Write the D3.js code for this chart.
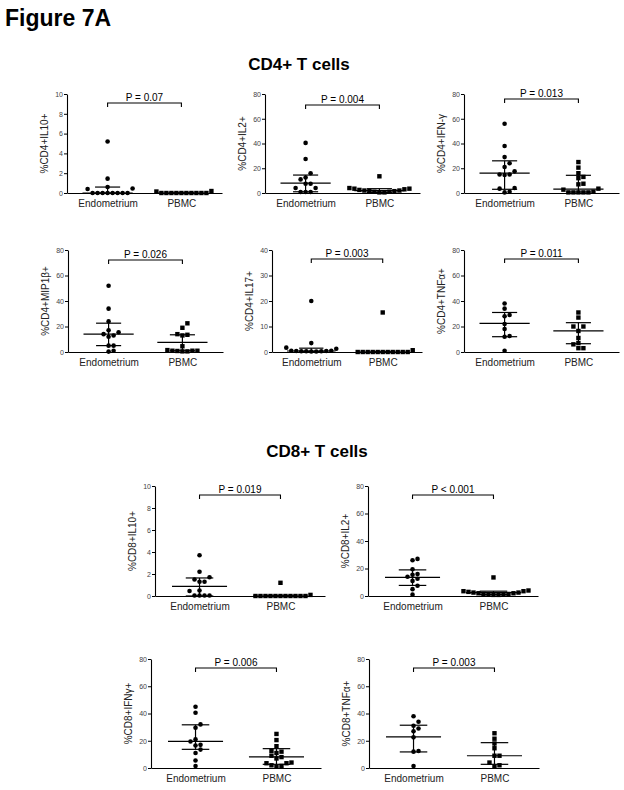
<!DOCTYPE html>
<html>
<head>
<meta charset="utf-8">
<script src="https://cdn.jsdelivr.net/npm/d3@7"></script>
<style>
  body { margin: 0; background: #fff; }
  svg { font-family: Arial, "Liberation Sans", Helvetica, sans-serif; }
</style>
</head>
<body>
<div id="fig"></div>
<script>
// groups on the x axis
const groups = ["Endometrium", "PBMC"];

// y axis labels, p values and y maxima, one per panel
const yLabels = ["%CD4+IL10+", "%CD4+IL2+", "%CD4+IFN-γ", "%CD4+MIP1β+", "%CD4+IL17+", "%CD4+TNFα+",
                 "%CD8+IL10+", "%CD8+IL2+", "%CD8+IFNγ+", "%CD8+TNFα+"];
const pTexts = ["P = 0.07", "P = 0.004", "P = 0.013", "P = 0.026", "P = 0.003", "P = 0.011",
                "P = 0.019", "P < 0.001", "P = 0.006", "P = 0.003"];
const yMax = [10, 80, 80, 80, 40, 80, 10, 80, 80, 80];

// individual values (Endometrium / PBMC)
const cd4Il10Endo = [5.2, 1.45, 0.6, 0.45, 0.4, 0, 0, 0, 0, 0, 0, 0, 0];
const cd4Il10Pbmc = [0.2, 0.15, 0, 0, 0, 0, 0, 0, 0, 0, 0, 0];
const cd4Il2Endo = [40.5, 27.5, 16, 12.5, 11, 7.5, 7.5, 4, 4, 0.8, 0.8, 0.8];
const cd4Il2Pbmc = [13.5, 4, 3.5, 3.5, 3, 2.5, 2, 1.5, 1, 0.5, 0.5, 1, 1.5, 2];
const cd4IfnEndo = [56, 38, 29, 24, 21, 17.5, 15, 15, 14.5, 4, 3.5, 1, 0.5];
const cd4IfnPbmc = [25, 20.5, 16, 13, 12, 7.5, 7, 3.5, 2.7, 1, 0.5, 0.5, 0.5, 0.5, 0.5];
const cd4MipEndo = [52, 34, 24, 17, 15.5, 14, 13, 12, 5, 5, 1, 0.3];
const cd4MipPbmc = [22.5, 19, 14, 13.5, 13, 4.5, 1.5, 1, 1, 1, 0.8, 0.5, 0.5];
const cd4Il17Endo = [20, 3.5, 1.7, 1.3, 0.5, 0.5, 0.4, 0.4, 0.3, 0.3, 0.3, 0.2, 0.2];
const cd4Il17Pbmc = [15.5, 0.7, 0, 0, 0, 0, 0, 0, 0, 0, 0, 0, 0];
const cd4TnfEndo = [38, 34, 29, 28, 22, 18, 12.5, 12, 1];
const cd4TnfPbmc = [31, 27, 20, 20, 16.5, 11, 7, 6, 3, 3];
const cd8Il10Endo = [3.7, 2.2, 1.7, 1.5, 1.3, 1.3, 0.5, 0.45, 0.05, 0.05, 0.05, 0.05];
const cd8Il10Pbmc = [1.2, 0.1, 0, 0, 0, 0, 0, 0, 0, 0, 0, 0, 0];
const cd8Il2Endo = [27, 26, 19.5, 16, 15.5, 14, 12.5, 11, 7.5, 5, 1];
const cd8Il2Pbmc = [13.5, 4, 3.5, 3, 2.5, 2, 1.5, 1, 0.8, 0.8, 1, 1.5, 2, 2.5, 3.5];
const cd8IfnEndo = [45, 40.5, 32, 29.5, 21, 19.5, 17, 16.5, 13.5, 11, 5.5, 1.5];
const cd8IfnPbmc = [25, 20.5, 16, 12.5, 12, 11, 9, 8, 7, 4, 3.5, 3.5, 2, 1.5, 1];
const cd8TnfEndo = [38, 34, 31, 29, 27, 22.5, 12.5, 12, 1.5];
const cd8TnfPbmc = [25.5, 21.5, 18, 14.5, 9, 9, 4, 2, 1];

// median and interquartile range per panel
const endoMedian = [0, 8, 16, 14, 0.4, 22.5, 0.88, 13.6, 19.6, 22.8];
const endoLow = [0, 1, 3, 5, 0.2, 12, 0, 7.7, 13.7, 11.8];
const endoHigh = [0.6, 14.5, 26, 22.6, 1.5, 31, 1.64, 19, 31.7, 31.4];
const pbmcMedian = [0, 2, 3.2, 7.6, 0, 16.5, 0, 2.4, 8.1, 9];
const pbmcLow = [0, 0.5, 0.8, 1, 0, 6.5, 0, 1, 2.7, 2.7];
const pbmcHigh = [0, 3.5, 14.3, 13.5, 0, 23, 0, 3.5, 14.2, 18.6];

const endoValues = [cd4Il10Endo, cd4Il2Endo, cd4IfnEndo, cd4MipEndo, cd4Il17Endo, cd4TnfEndo,
                    cd8Il10Endo, cd8Il2Endo, cd8IfnEndo, cd8TnfEndo];
const pbmcValues = [cd4Il10Pbmc, cd4Il2Pbmc, cd4IfnPbmc, cd4MipPbmc, cd4Il17Pbmc, cd4TnfPbmc,
                    cd8Il10Pbmc, cd8Il2Pbmc, cd8IfnPbmc, cd8TnfPbmc];

// where each panel sits on the page
const frames = [
  {x: 67, top: 94, bottom: 193, w: 155, gap: 9},
  {x: 265, top: 94, bottom: 193, w: 155, gap: 11},
  {x: 464, top: 94, bottom: 193, w: 155, gap: 5},
  {x: 68, top: 250, bottom: 352, w: 155, gap: 10},
  {x: 272, top: 250, bottom: 352, w: 150, gap: 9},
  {x: 464, top: 250, bottom: 352, w: 155, gap: 9},
  {x: 155, top: 486, bottom: 596, w: 170, gap: 9},
  {x: 368, top: 486, bottom: 596, w: 170, gap: 9},
  {x: 151, top: 659, bottom: 768, w: 170, gap: 9},
  {x: 369, top: 659, bottom: 768, w: 170, gap: 9}
];

const svg = d3.select("#fig").append("svg")
  .attr("width", 624)
  .attr("height", 790);

svg.append("text")
  .attr("x", 5).attr("y", 26)
  .style("font-size", "23px").style("font-weight", "bold")
  .text("Figure 7A");

svg.append("text")
  .attr("x", 299).attr("y", 70)
  .attr("text-anchor", "middle")
  .style("font-size", "17px").style("font-weight", "bold")
  .text("CD4+ T cells");

svg.append("text")
  .attr("x", 317).attr("y", 457)
  .attr("text-anchor", "middle")
  .style("font-size", "17px").style("font-weight", "bold")
  .text("CD8+ T cells");

// spread overlapping points sideways, lowest values nearest the centre
function swarm(values, cx, y, spacing, size) {
  const placed = [];
  values.slice().sort((a, b) => a - b).forEach(v => {
    const py = y(v);
    for (let k = 0; ; k++) {
      const off = k === 0 ? 0 : (k % 2 ? 1 : -1) * Math.ceil(k / 2) * spacing;
      const px = cx + off;
      if (!placed.some(p => Math.abs(p.x - px) < size && Math.abs(p.y - py) < size)) {
        placed.push({x: px, y: py});
        break;
      }
    }
  });
  return placed;
}

frames.forEach((f, i) => {
  const g = svg.append("g").attr("transform", `translate(${f.x},0)`);

  const x = d3.scalePoint().domain(groups).range([0, f.w]).padding(0.55);
  const y = d3.scaleLinear().domain([0, yMax[i]]).range([f.bottom, f.top]);

  // y axis
  const yAxis = g.append("g")
    .call(d3.axisLeft(y).ticks(5).tickSize(3).tickSizeOuter(0));
  yAxis.select(".domain").attr("stroke", "#000").attr("stroke-width", 1.1);
  yAxis.selectAll(".tick line").attr("stroke", "#000");
  yAxis.selectAll("text").style("font-size", "7px").attr("fill", "#444").attr("x", -4);

  // x axis
  const xAxis = g.append("g")
    .attr("transform", `translate(0,${f.bottom})`)
    .call(d3.axisBottom(x).tickSize(0).tickSizeOuter(0).tickPadding(7));
  xAxis.select(".domain").attr("stroke", "#000").attr("stroke-width", 1.1);
  xAxis.selectAll("text").style("font-size", "10px").attr("fill", "#222");

  // y label
  g.append("text")
    .attr("transform", `translate(-23,${(f.top + f.bottom) / 2}) rotate(-90)`)
    .attr("dy", "0.35em")
    .attr("text-anchor", "middle")
    .style("font-size", "10px")
    .attr("fill", "#222")
    .text(yLabels[i]);

  // points
  const step = x.step();
  const endoPts = swarm(endoValues[i], x(groups[0]), y, 5, 4.6);
  const pbmcPts = swarm(pbmcValues[i], x(groups[1]), y, 5, 4.6);

  g.selectAll(".endo").data(endoPts).enter()
    .append("circle")
    .attr("cx", d => d.x).attr("cy", d => d.y)
    .attr("r", 2.3).attr("fill", "#000");

  g.selectAll(".pbmc").data(pbmcPts).enter()
    .append("rect")
    .attr("x", d => d.x - 2.2).attr("y", d => d.y - 2.2)
    .attr("width", 4.4).attr("height", 4.4).attr("fill", "#000");

  // median and interquartile range
  const summary = [
    {cx: x(groups[0]), med: endoMedian[i], lo: endoLow[i], hi: endoHigh[i]},
    {cx: x(groups[1]), med: pbmcMedian[i], lo: pbmcLow[i], hi: pbmcHigh[i]}
  ];
  const medHalf = step * 0.34, capHalf = step * 0.17;
  summary.forEach(s => {
    const lines = [
      [s.cx - medHalf, y(s.med), s.cx + medHalf, y(s.med)],
      [s.cx - capHalf, y(s.hi), s.cx + capHalf, y(s.hi)],
      [s.cx - capHalf, y(s.lo), s.cx + capHalf, y(s.lo)],
      [s.cx, y(s.lo), s.cx, y(s.hi)]
    ];
    g.selectAll(null).data(lines).enter()
      .append("line")
      .attr("x1", d => d[0]).attr("y1", d => d[1])
      .attr("x2", d => d[2]).attr("y2", d => d[3])
      .attr("stroke", "#000").attr("stroke-width", 1.2);
  });

  // significance bracket
  const by = f.top + f.gap;
  const x0 = x(groups[0]), x1 = x(groups[1]);
  g.append("path")
    .attr("d", `M${x0},${by + 4}V${by}H${x1}V${by + 4}`)
    .attr("fill", "none").attr("stroke", "#000").attr("stroke-width", 1.1);
  g.append("text")
    .attr("x", (x0 + x1) / 2).attr("y", by - 2.5)
    .attr("text-anchor", "middle")
    .style("font-size", "10px")
    .text(pTexts[i]);
});
</script>
</body>
</html>
